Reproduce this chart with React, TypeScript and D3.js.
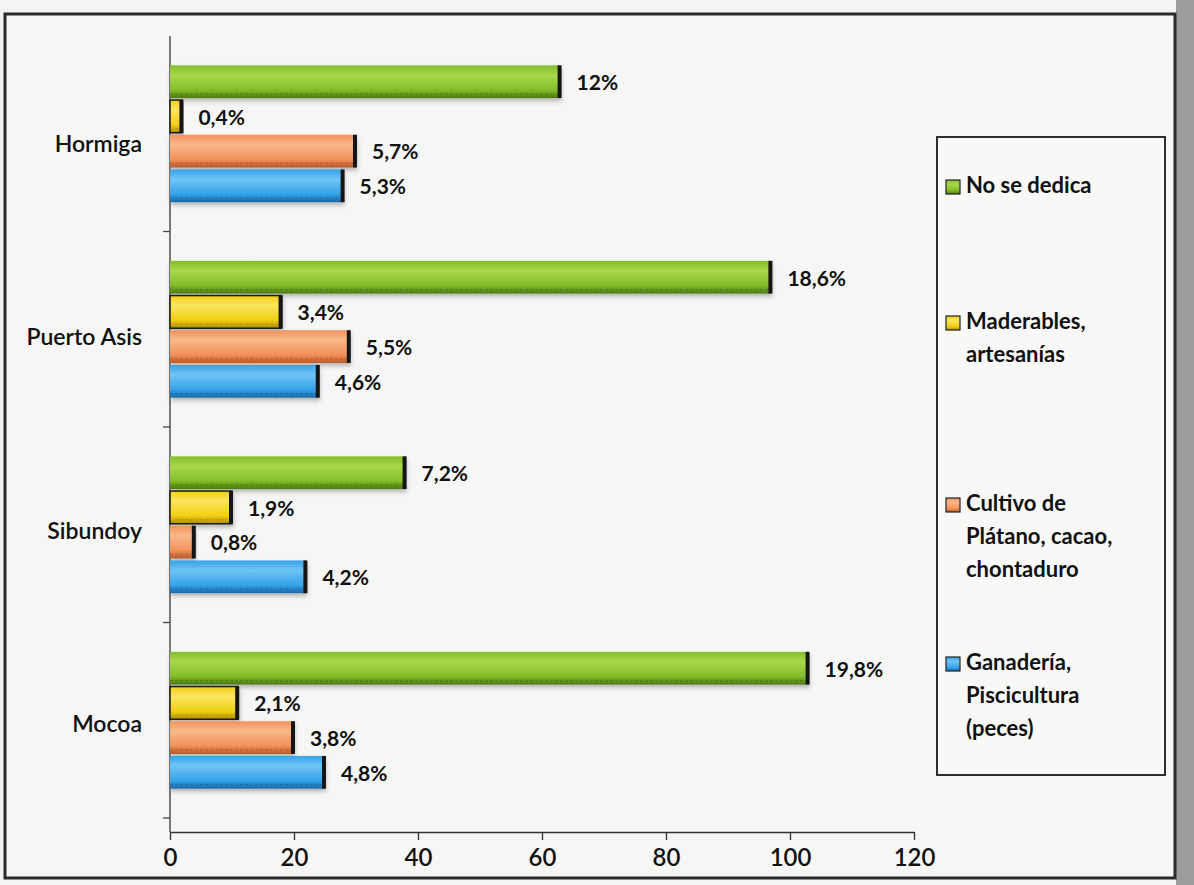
import { useEffect, useRef } from 'react'
import * as d3 from 'd3'

const WIDTH = 1194
const HEIGHT = 885
const FONT = 'Lato, Calibri, "Open Sans", sans-serif'

// categories, top to bottom
const categories = ['Hormiga', 'Puerto Asis', 'Sibundoy', 'Mocoa']

// bar lengths (counts), plus the printed % labels
const noSeDedica = [63, 97, 38, 103]
const maderables = [2, 18, 10, 11]
const cultivo = [30, 29, 4, 20]
const ganaderia = [28, 24, 22, 25]

const noSeDedicaLabels = ['12%', '18,6%', '7,2%', '19,8%']
const maderablesLabels = ['0,4%', '3,4%', '1,9%', '2,1%']
const cultivoLabels = ['5,7%', '5,5%', '0,8%', '3,8%']
const ganaderiaLabels = ['5,3%', '4,6%', '4,2%', '4,8%']

const legendLines = [
  ['No se dedica'],
  ['Maderables,', 'artesanías'],
  ['Cultivo de', 'Plátano, cacao,', 'chontaduro'],
  ['Ganadería,', 'Piscicultura', '(peces)'],
]

const xTicks = [0, 20, 40, 60, 80, 100, 120]

// layout: first text line of each legend entry
const LEGEND_FIRST_Y = [187, 323, 505, 664]
const LEGEND_LINE_H = 33

interface Series {
  key: string
  values: number[]
  labels: string[]
  base: string
  light: string
  dark: string
  outline: boolean
}

const series: Series[] = [
  { key: 'green', values: noSeDedica, labels: noSeDedicaLabels, base: '#84bd2a', light: '#a9d84c', dark: '#4c7a10', outline: false },
  { key: 'yellow', values: maderables, labels: maderablesLabels, base: '#f2cf14', light: '#fbe65e', dark: '#b08e00', outline: true },
  { key: 'orange', values: cultivo, labels: cultivoLabels, base: '#f2925a', light: '#f9b88a', dark: '#b9592a', outline: false },
  { key: 'blue', values: ganaderia, labels: ganaderiaLabels, base: '#35a3ea', light: '#70c4f5', dark: '#1a69a8', outline: false },
]

export default function App() {
  const ref = useRef<SVGSVGElement>(null)

  useEffect(() => {
    document.body.style.margin = '0'
    const svg = d3.select(ref.current)
    svg.selectAll('*').remove()

    const defs = svg.append('defs')
    series.forEach((s) => {
      const grad = defs
        .append('linearGradient')
        .attr('id', `grad-${s.key}`)
        .attr('x1', 0)
        .attr('y1', 0)
        .attr('x2', 0)
        .attr('y2', 1)
      grad.append('stop').attr('offset', '0%').attr('stop-color', s.base)
      grad.append('stop').attr('offset', '30%').attr('stop-color', s.light)
      grad.append('stop').attr('offset', '75%').attr('stop-color', s.base)
      grad.append('stop').attr('offset', '100%').attr('stop-color', s.dark)
    })
    const shadow = defs.append('filter').attr('id', 'shadow').attr('x', '-5%').attr('y', '-20%').attr('width', '115%').attr('height', '160%')
    shadow
      .append('feDropShadow')
      .attr('dx', 1)
      .attr('dy', 3)
      .attr('stdDeviation', 2)
      .attr('flood-color', '#555')
      .attr('flood-opacity', 0.4)

    // page + photographed frame
    svg.append('rect').attr('width', WIDTH).attr('height', HEIGHT).attr('fill', '#f4f4f2')
    svg.append('rect').attr('x', 1176).attr('y', 0).attr('width', 18).attr('height', HEIGHT).attr('fill', '#9c9c9a')
    svg
      .append('rect')
      .attr('x', 5)
      .attr('y', 14)
      .attr('width', 1170)
      .attr('height', 864)
      .attr('fill', '#f6f6f4')
      .attr('stroke', '#2a2a2a')
      .attr('stroke-width', 3)

    const x = d3.scaleLinear().domain([0, 120]).range([170, 914])
    const y = d3.scaleBand<string>().domain(categories).range([36, 818]).paddingInner(0.29).paddingOuter(0.145)
    const ySub = d3
      .scaleBand<string>()
      .domain(series.map((s) => s.key))
      .range([0, y.bandwidth()])

    const axisY = 832

    // x axis
    const xAxis = d3.axisBottom(x).tickValues(xTicks).tickSize(8).tickSizeOuter(0).tickFormat((d) => String(d))
    const gx = svg.append('g').attr('transform', `translate(0,${axisY})`).call(xAxis)
    gx.selectAll('.domain, .tick line').attr('stroke', '#333').attr('stroke-width', 1.3)
    gx.selectAll('.tick text')
      .attr('fill', '#111')
      .attr('font-family', FONT)
      .attr('font-weight', 600)
      .attr('font-size', 24)
      .attr('dy', '0.95em')

    // y axis line with category boundary ticks
    svg
      .append('line')
      .attr('x1', x(0))
      .attr('x2', x(0))
      .attr('y1', 36)
      .attr('y2', axisY)
      .attr('stroke', '#333')
      .attr('stroke-width', 1.3)
    const boundaries = categories.map((c) => (y(c) ?? 0) - (y.step() * y.paddingInner()) / 2)
    svg
      .selectAll('line.cat-tick')
      .data(boundaries.slice(1).concat([818]))
      .join('line')
      .attr('class', 'cat-tick')
      .attr('x1', x(0) - 7)
      .attr('x2', x(0))
      .attr('y1', (d) => d)
      .attr('y2', (d) => d)
      .attr('stroke', '#444')
      .attr('stroke-width', 1.3)

    svg
      .selectAll('text.cat')
      .data(categories)
      .join('text')
      .attr('class', 'cat')
      .attr('x', x(0) - 28)
      .attr('y', (d, i) => (y(d) ?? 0) + y.bandwidth() / 2 + 12 - i * 2)
      .attr('text-anchor', 'end')
      .attr('dominant-baseline', 'middle')
      .attr('font-family', FONT)
      .attr('font-weight', 600)
      .attr('font-size', 23)
      .attr('fill', '#111')
      .text((d) => d)

    // bars
    series.forEach((s) => {
      const g = svg.append('g')
      const rows = categories.map((c, i) => ({ c, v: s.values[i], label: s.labels[i] }))
      const top = (c: string) => (y(c) ?? 0) + (ySub(s.key) ?? 0)
      const h = ySub.bandwidth()

      g.selectAll('rect.bar')
        .data(rows)
        .join('rect')
        .attr('class', 'bar')
        .attr('x', x(0))
        .attr('y', (d) => top(d.c) + 1)
        .attr('width', (d) => x(d.v) - x(0))
        .attr('height', h - 2)
        .attr('fill', `url(#grad-${s.key})`)
        .attr('stroke', s.outline ? '#1a1a1a' : 'none')
        .attr('stroke-width', 1.5)
        .attr('filter', 'url(#shadow)')

      g.selectAll('line.bottom')
        .data(rows)
        .join('line')
        .attr('class', 'bottom')
        .attr('x1', x(0))
        .attr('x2', (d) => x(d.v))
        .attr('y1', (d) => top(d.c) + h - 5)
        .attr('y2', (d) => top(d.c) + h - 5)
        .attr('stroke', s.dark)
        .attr('stroke-width', 1.2)
        .attr('stroke-dasharray', '3 2')
        .attr('opacity', 0.7)

      g.selectAll('rect.cap')
        .data(rows)
        .join('rect')
        .attr('class', 'cap')
        .attr('x', (d) => x(d.v) - 3)
        .attr('y', (d) => top(d.c) + 1)
        .attr('width', 4)
        .attr('height', h - 2)
        .attr('fill', '#151515')

      g.selectAll('text.val')
        .data(rows)
        .join('text')
        .attr('class', 'val')
        .attr('x', (d) => x(d.v) + 16)
        .attr('y', (d) => top(d.c) + h / 2 + 3)
        .attr('dominant-baseline', 'middle')
        .attr('font-family', FONT)
        .attr('font-weight', 700)
        .attr('font-size', 21)
        .attr('fill', '#111')
        .text((d) => d.label)
    })

    // legend
    const legend = svg.append('g')
    legend
      .append('rect')
      .attr('x', 937)
      .attr('y', 137)
      .attr('width', 228)
      .attr('height', 638)
      .attr('fill', '#f8f8f6')
      .attr('stroke', '#1a1a1a')
      .attr('stroke-width', 1.8)

    series.forEach((s, i) => {
      const lines = legendLines[i]
      const firstY = LEGEND_FIRST_Y[i]
      legend
        .append('rect')
        .attr('x', 946)
        .attr('y', firstY - 7)
        .attr('width', 14)
        .attr('height', 14)
        .attr('fill', `url(#grad-${s.key})`)
        .attr('stroke', '#222')
        .attr('stroke-width', 1.2)
      legend
        .selectAll(`text.leg-${s.key}`)
        .data(lines)
        .join('text')
        .attr('class', `leg-${s.key}`)
        .attr('x', 966)
        .attr('y', (_, j) => firstY + j * LEGEND_LINE_H)
        .attr('dominant-baseline', 'middle')
        .attr('font-family', FONT)
        .attr('font-weight', 700)
        .attr('font-size', 22)
        .attr('fill', '#111')
        .text((d) => d)
    })
  }, [])

  return <svg ref={ref} width={WIDTH} height={HEIGHT} style={{ display: 'block' }} />
}
